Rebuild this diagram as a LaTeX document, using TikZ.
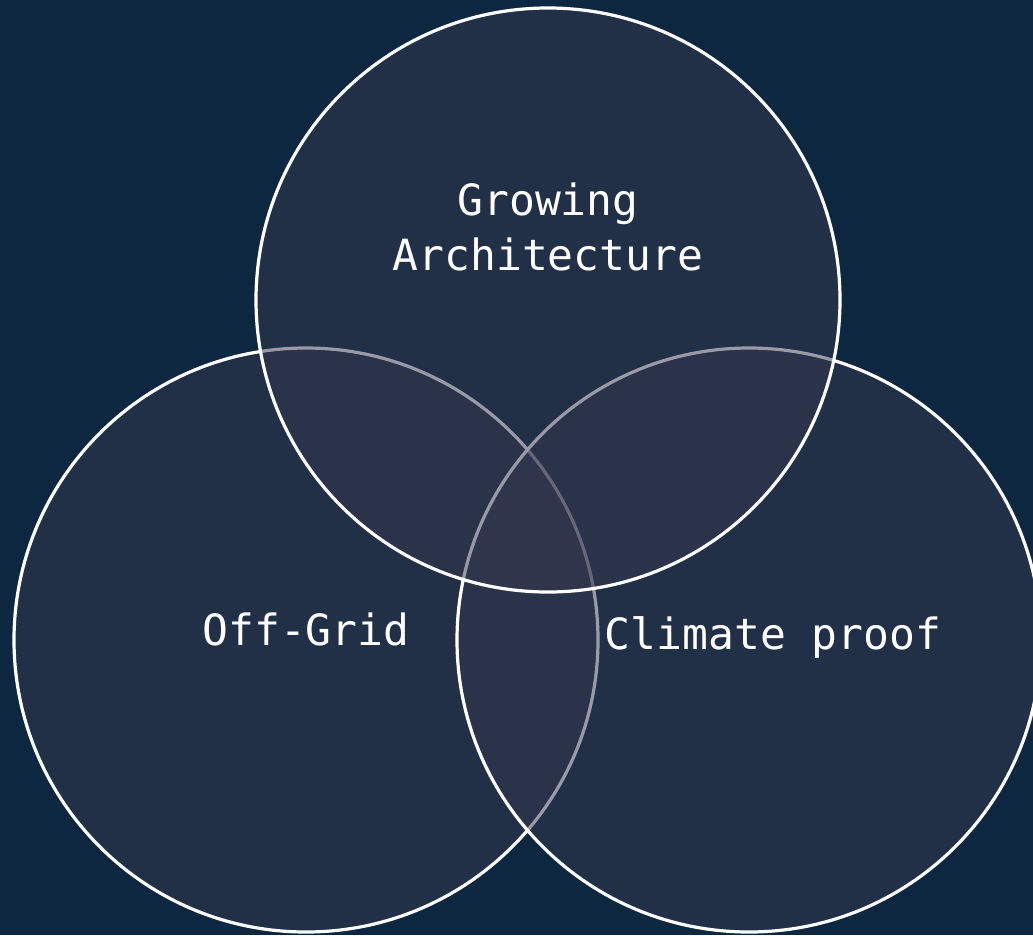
\documentclass[tikz,border=0pt]{standalone}
\usepackage{fontspec}
\setmonofont{DejaVu Sans Mono}
\definecolor{bgnavy}{HTML}{0E2741}
\definecolor{circfill}{HTML}{34374D}
\begin{document}
\begin{tikzpicture}[x=1pt,y=-1pt,
  venn/.style={draw=white, line width=3.2pt, fill=circfill, fill opacity=0.5, draw opacity=1},
  lbl/.style={text=white, font=\ttfamily\fontsize{43}{55}\selectfont, align=center, anchor=base, inner sep=0pt}]
\fill[bgnavy] (0,0) rectangle (1033,935);
\useasboundingbox (0,0) rectangle (1033,935);
\begin{scope}
\clip (0,0) rectangle (1033,935);
\path[venn] (306,640) circle[radius=292];
\path[venn] (749,640) circle[radius=292];
\path[venn] (548,300) circle[radius=292];
\end{scope}
\node[lbl] (grow) at (548,270) {Growing\\Architecture};
\node[lbl] (off) at (306,645) {Off-Grid};
\node[lbl] (clim) at (773,649) {Climate proof};
\end{tikzpicture}
\end{document}
